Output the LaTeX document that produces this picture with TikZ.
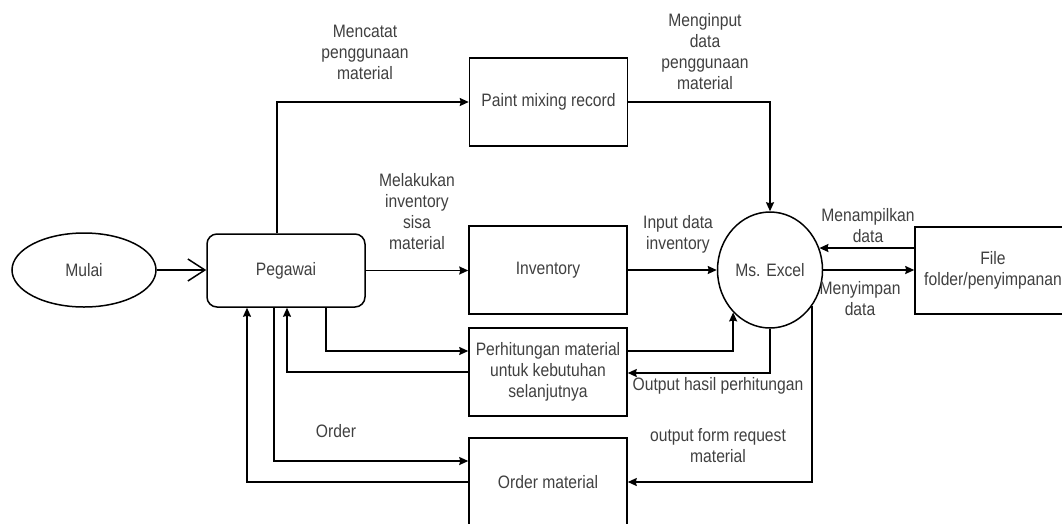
\documentclass[tikz,border=0pt]{standalone}
\usepackage{fontspec}
\setmainfont{Liberation Sans}[FakeStretch=0.87]
\usetikzlibrary{shapes.geometric,arrows.meta,calc}
\begin{document}
\begin{tikzpicture}[x=1pt,y=-1pt,
  every node/.style={font=\fontsize{18}{21}\selectfont, text=black!75},
  box/.style={draw=black, line width=1.5pt, minimum width=158pt, minimum height=88pt, inner sep=0pt, align=center},
  lbl/.style={align=center, inner sep=0pt},
  arr/.style={draw=black, line width=1.5pt, -{Stealth[length=9pt,width=8pt,inset=1pt]}},
  openarr/.style={draw=black, line width=1.5pt, -{Straight Barb[length=17pt,width=22pt,line width=1.5pt]}}
]
\useasboundingbox (0,0) rectangle (1062,523);
\clip (0,0) rectangle (1062,523);
\fill[white] (0,0) rectangle (1062,523);

% nodes
\node[draw=black, line width=1.5pt, ellipse, minimum width=144pt, minimum height=74pt, inner sep=0pt] (mulai) at (84,270) {Mulai};
\node[box, rounded corners=10pt, minimum width=158pt, minimum height=73pt] (peg) at (286,270.5) {Pegawai};
\node[box] (paint) at (548.5,102) {Paint mixing record};
\node[box] (inv) at (548,270) {Inventory};
\node[box] (perh) at (548,372) {Perhitungan material\\untuk kebutuhan\\selanjutnya};
\node[box, minimum height=88pt] (order) at (548,482) {Order material};
\node[draw=black, line width=1.5pt, ellipse, minimum width=105pt, minimum height=116pt, inner sep=0pt] (excel) at (770,270) {Ms. Excel};
\node[box, minimum width=156pt, minimum height=87pt] (file) at (993,270.5) {File\\folder/penyimpanan};

% connectors
\draw[openarr] (mulai.east) -- (peg.west |- mulai.east);
\draw[arr] ([xshift=-9pt]peg.north) |- (paint.west);
\draw[arr] (paint.east) -| (excel.north);
\draw[arr] (peg.east) -- (peg.east -| inv.west);
\draw[arr] (inv.east) -- (inv.east -| excel.west);
\draw[arr] ([xshift=40pt]peg.south) |- ([yshift=21pt]perh.west);
\draw[arr] (perh.west) -| ([xshift=1pt]peg.south);
\draw[arr] ([yshift=21pt]perh.east) -| (excel.229);
\draw[arr] (excel.south) |- ([yshift=-1pt]perh.east);
\draw[arr] (excel.319) |- (order.east);
\draw[arr] ([xshift=-12pt]peg.south) |- ([yshift=21pt]order.west);
\draw[arr] (order.west) -| ([xshift=-39pt]peg.south);
\draw[arr] (file.west |- excel.24) -- (excel.24);
\draw[arr] (excel.east) -- (excel.east -| file.west);

% labels
\node[lbl] (l1) at (365,52) {Mencatat\\penggunaan\\material};
\node[lbl] (l2) at (705,52) {Menginput\\data\\penggunaan\\material};
\node[lbl] (l3) at (417,212) {Melakukan\\inventory\\sisa\\material};
\node[lbl] (l4) at (678,234) {Input data\\inventory};
\node[lbl] (l5) at (868,226) {Menampilkan\\data};
\node[lbl] (l6) at (860,299) {Menyimpan\\data};
\node[lbl] (l7) at (718,386) {Output hasil perhitungan};
\node[lbl] (l8) at (718,446) {output form request\\material};
\node[lbl] (l9) at (336,431) {Order};
\end{tikzpicture}
\end{document}
